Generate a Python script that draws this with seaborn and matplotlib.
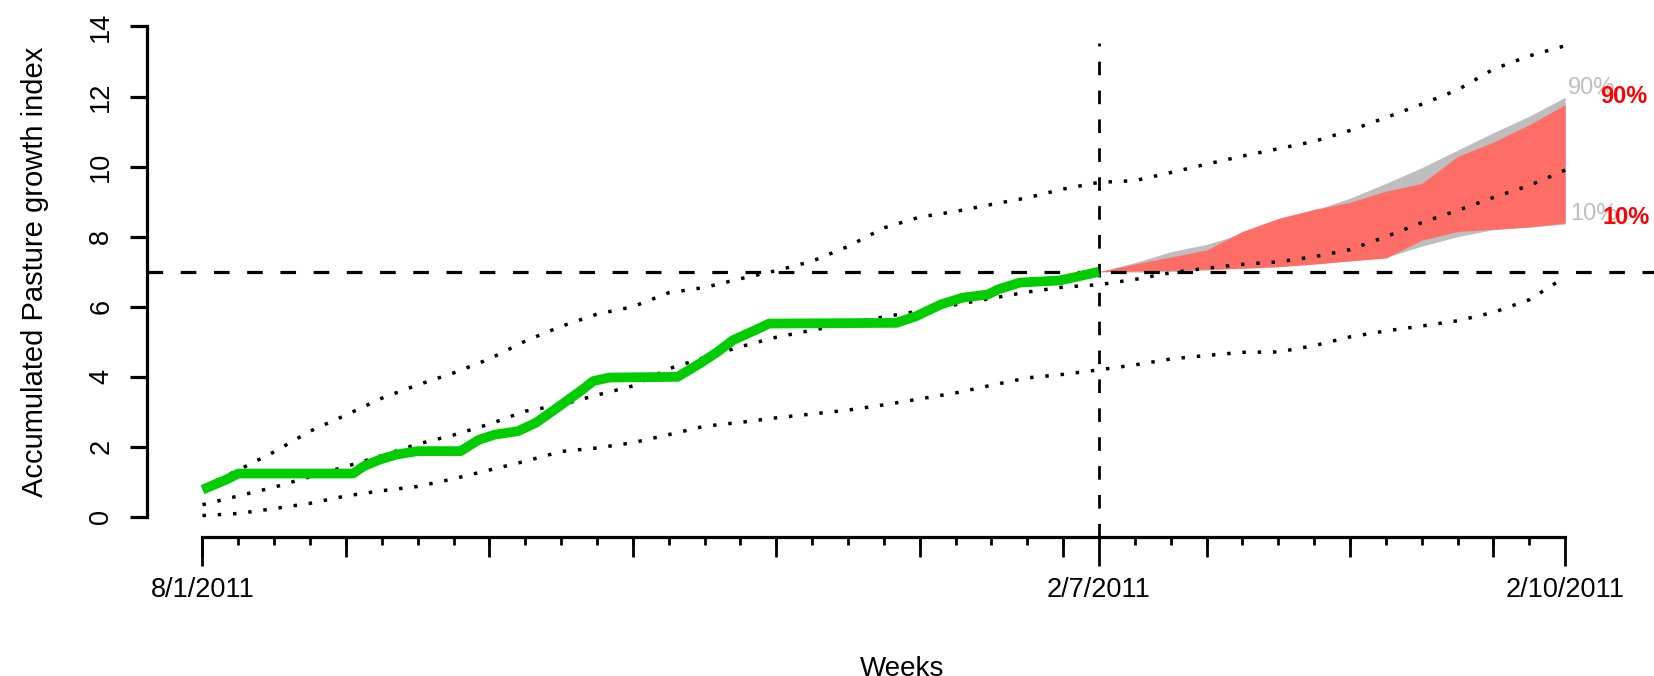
import numpy as np
import pandas as pd
import seaborn as sns
import matplotlib.pyplot as plt
from matplotlib.ticker import NullLocator

obs_weeks = [0, 0.67, 1.0, 4.2, 4.5, 4.95, 5.4, 6.0, 7.2, 7.7, 8.15, 8.8, 9.3,
             9.95, 10.6, 10.9, 11.35, 13.25, 13.9, 14.33, 14.8, 15.45, 15.8,
             19.35, 19.9, 20.6, 21.2, 21.9, 22.2, 22.8, 23.9, 24.4, 25]
obs_vals = [0.78, 1.07, 1.24, 1.24, 1.45, 1.64, 1.78, 1.88, 1.88, 2.2, 2.35, 2.45, 2.69,
            3.16, 3.64, 3.88, 3.98, 4.0, 4.4, 4.69, 5.05, 5.35, 5.52,
            5.54, 5.73, 6.07, 6.26, 6.35, 6.5, 6.69, 6.75, 6.86, 7.0]

# historical envelope (dotted lines), weekly
weeks = list(range(39))
hist_max = [0.85, 1.34, 1.86, 2.45, 2.91, 3.39, 3.77, 4.11, 4.51, 5.02, 5.44, 5.79, 6.0,
            6.4, 6.55, 6.8, 7.03, 7.3, 7.72, 8.25, 8.56, 8.72, 8.92, 9.11, 9.36, 9.55,
            9.6, 9.83, 10.07, 10.3, 10.51, 10.72, 11.03, 11.4, 11.78, 12.19, 12.78, 13.16, 13.45]
hist_mean = [0.35, 0.6, 0.85, 1.15, 1.44, 1.75, 2.08, 2.34, 2.65, 3.02, 3.2, 3.48, 3.74,
             4.23, 4.55, 4.86, 5.13, 5.33, 5.52, 5.71, 5.88, 6.06, 6.24, 6.42, 6.56, 6.63,
             6.78, 6.97, 7.1, 7.21, 7.28, 7.43, 7.63, 8.0, 8.4, 8.75, 9.12, 9.46, 9.9]
hist_min = [0.04, 0.1, 0.24, 0.39, 0.6, 0.75, 0.87, 1.09, 1.34, 1.59, 1.87, 1.97, 2.12,
            2.35, 2.59, 2.7, 2.83, 2.94, 3.05, 3.2, 3.37, 3.54, 3.76, 3.97, 4.07, 4.2,
            4.34, 4.51, 4.61, 4.7, 4.71, 4.89, 5.14, 5.31, 5.45, 5.6, 5.84, 6.2, 6.85]

# forecast bands 10% - 90%
fc_weeks = list(range(25, 39))
grey_lo = [7.0, 6.99, 7.0, 7.05, 7.1, 7.15, 7.22, 7.31, 7.41, 7.73, 8.0, 8.2, 8.27, 8.36]
grey_hi = [7.0, 7.26, 7.57, 7.78, 8.09, 8.42, 8.75, 9.1, 9.52, 9.97, 10.47, 10.97, 11.44, 11.98]
red_lo = [7.0, 7.02, 7.04, 7.07, 7.1, 7.14, 7.22, 7.31, 7.39, 7.9, 8.15, 8.21, 8.28, 8.39]
red_hi = [7.0, 7.22, 7.42, 7.62, 8.15, 8.52, 8.78, 8.98, 9.3, 9.52, 10.29, 10.7, 11.2, 11.77]

now_week = 25
current_level = 7.0
date_ticks = [0, 25, 38]
date_labels = ['8/1/2011', '2/7/2011', '2/10/2011']

sns.set_style("ticks")
plt.rcParams['font.family'] = ['Liberation Sans', 'DejaVu Sans']
plt.rcParams['text.color'] = 'black'
plt.rcParams['axes.labelcolor'] = 'black'

fig = plt.figure(figsize=(16.54, 6.76), dpi=100)
ax = fig.add_axes([0.0886, 0.2062, 0.9132, 0.7837])

ax.fill_between(fc_weeks, grey_lo, grey_hi, color='#BEBEBE', lw=0, zorder=1)
ax.fill_between(fc_weeks, red_lo, red_hi, color='#FF6E66', lw=0, zorder=2)

dot = (0, (1, 3.4))
for s in [hist_max, hist_mean, hist_min]:
    sns.lineplot(x=weeks, y=s, ax=ax, color='black', lw=2.5, linestyle=dot,
                 estimator=None, sort=False, zorder=3)

dash = (0, (4.9, 5.5))
ax.axhline(current_level, color='black', lw=2.3, linestyle=dash, zorder=4)
ax.plot([now_week, now_week], [-0.56, 13.53], color='black', lw=2.0, linestyle=dash, zorder=4)

obs = pd.DataFrame({'week': obs_weeks, 'val': obs_vals})
sns.lineplot(data=obs, x='week', y='val', ax=ax, color='#00CC00', lw=7,
             estimator=None, sort=False, zorder=5, solid_capstyle='butt')

ax.annotate('90%', xy=(fc_weeks[-1], grey_hi[-1]), xytext=(2, 7), textcoords='offset points',
            color='#BEBEBE', fontsize=17, ha='left', va='center')
ax.annotate('90%', xy=(fc_weeks[-1], red_hi[-1]), xytext=(25, 6), textcoords='offset points',
            color='#FF0000', fontsize=17, fontweight='bold', ha='left', va='center')
ax.annotate('10%', xy=(fc_weeks[-1], grey_lo[-1]), xytext=(3.5, 7), textcoords='offset points',
            color='#BEBEBE', fontsize=17, ha='left', va='center')
ax.annotate('10%', xy=(fc_weeks[-1], red_lo[-1]), xytext=(27, 4), textcoords='offset points',
            color='#FF0000', fontsize=17, fontweight='bold', ha='left', va='center')

ax.set_xlim(-1.56, 40.56)
ax.set_ylim(-0.56, 14.56)

for side in ['top', 'right']:
    ax.spines[side].set_visible(False)
ax.spines['left'].set_bounds(0, 14)
ax.spines['bottom'].set_bounds(0, 38)
for side in ['left', 'bottom']:
    ax.spines[side].set_linewidth(2.3)
    ax.spines[side].set_color('black')

ax.set_yticks(range(0, 15, 2))
ax.set_yticklabels([str(v) for v in range(0, 15, 2)], rotation=90, va='center')
ax.tick_params(axis='y', length=12.2, width=2.3, pad=11, labelsize=19.5, color='black', labelcolor='black')

ax.set_xticks(date_ticks)
ax.set_xticklabels(date_labels)
ax.xaxis.set_minor_locator(plt.FixedLocator(weeks))
ax.tick_params(axis='x', which='major', length=21, width=2.0, pad=8, labelsize=19.5,
               color='black', labelcolor='black')
ax.tick_params(axis='x', which='minor', length=5.5, width=2.0, color='black')

sec = ax.secondary_xaxis('bottom')
sec.set_xticks(list(range(0, 39, 4)))
sec.xaxis.set_minor_locator(NullLocator())
sec.tick_params(length=14.4, width=2.0, labelbottom=False, color='black')
sec.spines['bottom'].set_visible(False)

ax.set_xlabel('Weeks', fontsize=20, labelpad=38)
ax.set_ylabel('Accumulated Pasture growth index', fontsize=21, labelpad=28)

fig.savefig('out.png', dpi=100)
